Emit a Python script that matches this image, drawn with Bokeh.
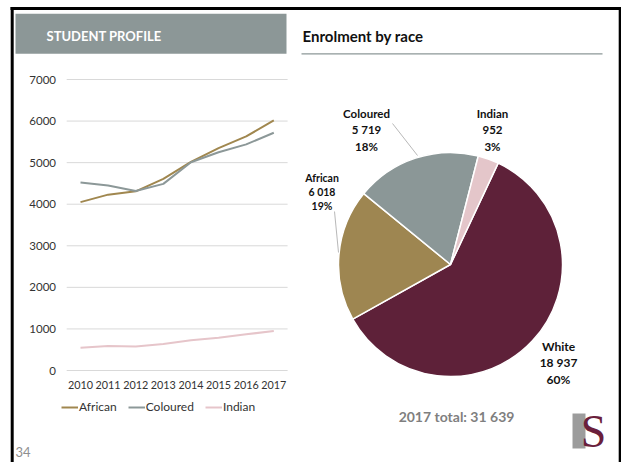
import numpy as np
from bokeh.plotting import figure
from bokeh.models import (Range1d, LinearAxis, FixedTicker, ColumnDataSource,
                          Legend, LegendItem)
from bokeh.core.properties import value
from bokeh.embed import file_html
from bokeh.resources import INLINE

# ---------------- data ----------------
years = [2010, 2011, 2012, 2013, 2014, 2015, 2016, 2017]
african = [4050, 4230, 4310, 4610, 5020, 5350, 5630, 6018]
coloured = [4520, 4450, 4320, 4490, 5010, 5250, 5440, 5719]
indian = [550, 590, 580, 640, 730, 790, 870, 952]
y_ticks = [0, 1000, 2000, 3000, 4000, 5000, 6000, 7000]

races = ["White", "African", "Coloured", "Indian"]        # clockwise order
counts = [18937, 6018, 5719, 952]
race_colors = ["#5E2139", "#9E8651", "#8B9797", "#E4C6CA"]
total_label = "2017 total: 31 639"
page_number = "34"
header_left = "STUDENT PROFILE"
header_right = "Enrolment by race"

# ---------------- layout helpers ----------------
W, H = 621, 462
FONT_NAME = "Lato"
FONT = value(FONT_NAME)


def Y(yd):
    return H - yd


p = figure(width=W, height=H, x_range=Range1d(0, W), y_range=Range1d(0, H),
           x_axis_type=None, y_axis_type=None, min_border=0,
           toolbar_location=None, output_backend="svg",
           outline_line_color=None, background_fill_color="white",
           border_fill_color="white")

# slide frame
p.segment(x0=[10, 11.7, 619.7], x1=[621, 11.7, 619.7],
          y0=[Y(8), Y(6.5), Y(6.5)], y1=[Y(8), 0, 0],
          line_color="black", line_width=3)

# header
p.quad(left=15, right=286, top=Y(13.3), bottom=Y(53.3),
       fill_color="#8C9797", line_color=None)
p.text(x=[46], y=[Y(35.5)], text=[header_left], text_font=FONT,
       text_font_style="bold", text_font_size="13px", text_color="white",
       text_baseline="middle", text_align="left")
p.text(x=[302], y=[Y(35)], text=[header_right], text_font=FONT,
       text_font_style="bold", text_font_size="15px", text_color="#111111",
       text_baseline="middle", text_align="left")
p.segment(x0=[301], x1=[602], y0=[Y(53.3)], y1=[Y(53.3)],
          line_color="#8C9797", line_width=1.3)

# ---------------- line chart ----------------
px_per_val = (370 - 79) / 7000.0
px_per_year = (273.3 - 80.0) / 7.0
p.extra_y_ranges = {"val": Range1d(start=(370 - H) / px_per_val,
                                   end=370 / px_per_val)}
p.extra_x_ranges = {"yr": Range1d(start=2010 - 80 / px_per_year,
                                  end=2010 + (W - 80) / px_per_year)}

n = len(y_ticks)
p.segment(x0=[years[0] - 0.5] * n, x1=[years[-1] + 0.5] * n,
          y0=y_ticks, y1=y_ticks, x_range_name="yr", y_range_name="val",
          line_color="#D9D9D9", line_width=1)

r_af = p.line(years, african, x_range_name="yr", y_range_name="val",
              line_color="#A0874F", line_width=2)
r_co = p.line(years, coloured, x_range_name="yr", y_range_name="val",
              line_color="#8C9898", line_width=2)
r_in = p.line(years, indian, x_range_name="yr", y_range_name="val",
              line_color="#E6C5CA", line_width=2)

yax = LinearAxis(y_range_name="val", fixed_location=66.5,
                 ticker=FixedTicker(ticks=y_ticks),
                 axis_line_color=None, major_tick_line_color=None,
                 minor_tick_line_color=None, major_tick_in=0, major_tick_out=0,
                 major_label_standoff=11, major_label_text_font=FONT_NAME,
                 major_label_text_font_size="11.5px",
                 major_label_text_color="#333333")
p.add_layout(yax, "left")

xax = LinearAxis(x_range_name="yr", fixed_location=Y(370),
                 ticker=FixedTicker(ticks=years),
                 axis_line_color=None, major_tick_line_color=None,
                 minor_tick_line_color=None, major_tick_in=0, major_tick_out=0,
                 major_label_standoff=10, major_label_text_font=FONT_NAME,
                 major_label_text_font_size="10.8px",
                 major_label_text_color="#333333")
p.add_layout(xax, "below")

legend = Legend(items=[LegendItem(label="African", renderers=[r_af]),
                       LegendItem(label="Coloured", renderers=[r_co]),
                       LegendItem(label="Indian", renderers=[r_in])],
                orientation="horizontal", location=(61, Y(414)),
                border_line_color=None, background_fill_alpha=0,
                padding=0, margin=0, spacing=11, glyph_width=17,
                glyph_height=12, label_standoff=1, label_height=12,
                label_text_font=FONT_NAME, label_text_font_size="12px",
                label_text_color="#333333")
p.add_layout(legend)

# ---------------- pie ----------------
cx, cy, rad = 450, Y(264), 112
first_angle = 25.2  # degrees clockwise from 12 o'clock
total = float(sum(counts))
fracs = np.array(counts) / total
cum = np.cumsum(fracs)
th_start = first_angle + 360 * np.concatenate([[0], cum[:-1]])
th_end = first_angle + 360 * cum
pie_src = ColumnDataSource(dict(
    race=races, count=counts, color=race_colors,
    start=np.radians(90 - th_start), end=np.radians(90 - th_end)))
p.wedge(x=cx, y=cy, radius=rad, start_angle="start", end_angle="end",
        direction="clock", fill_color="color", line_color="white",
        line_width=1.5, source=pie_src)


def fmt(v):
    return f"{v:,}".replace(",", " ")


label_pos = {"White": (558, 345.7, 12, 16.7),
             "African": (321.5, 177.3, 10.5, 14.3),
             "Coloured": (366, 113, 11.5, 16.3),
             "Indian": (492, 113, 11.5, 16.3)}
lx, ly, lt, ls = [], [], [], []
for race, c in zip(races, counts):
    x0, y0, size, gap = label_pos[race]
    lines = [race, fmt(c), f"{round(100 * c / total)}%"]
    for i, t in enumerate(lines):
        lx.append(x0)
        ly.append(Y(y0 + i * gap))
        lt.append(t)
        ls.append(f"{size}px")
p.text(x="x", y="y", text="t", text_font_size="s",
       source=ColumnDataSource(dict(x=lx, y=ly, t=lt, s=ls)),
       text_font=FONT, text_font_style="bold", text_color="#111111",
       text_align="center", text_baseline="middle")

# leader lines
p.segment(x0=[392, 334], y0=[Y(123), Y(211)], x1=[417, 338], y1=[Y(155), Y(252)],
          line_color="#A6A6A6", line_width=0.8)

# total
p.text(x=[456], y=[Y(416)], text=[total_label], text_font=FONT,
       text_font_style="bold", text_font_size="14px", text_color="#7F7F7F",
       text_align="center", text_baseline="middle")

# page number
p.text(x=[15], y=[Y(451)], text=[page_number], text_font=FONT,
       text_font_size="13px", text_color="#8F8F8F",
       text_align="left", text_baseline="middle")

# logo
p.quad(left=572, right=585, top=Y(413), bottom=Y(448),
       fill_color="#9C9C9C", line_color=None)
p.text(x=[593], y=[Y(431)], text=["S"], text_font=value("Liberation Serif"),
       text_font_size="46px", text_color="#6B1F3C",
       text_align="center", text_baseline="middle")

open("out.html", "w").write(file_html(p, INLINE))
